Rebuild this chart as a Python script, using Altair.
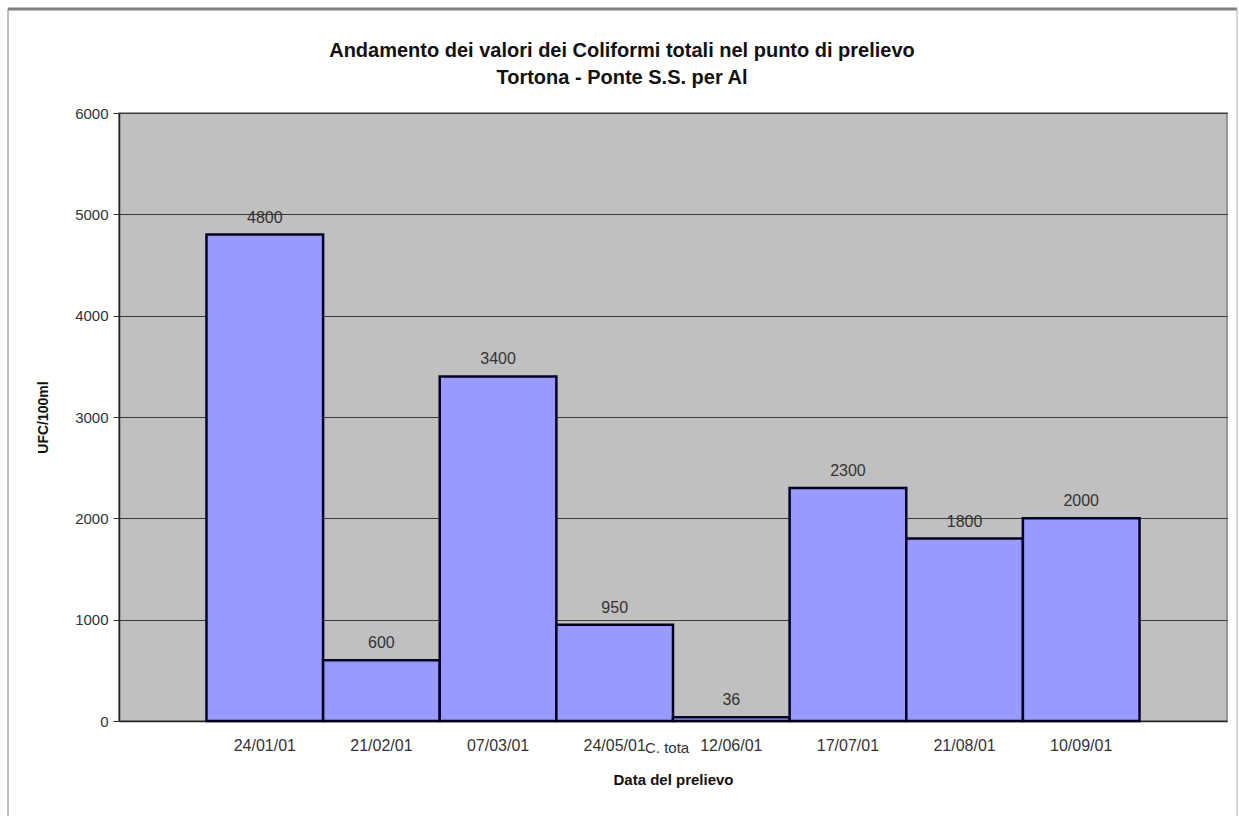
import altair as alt
import pandas as pd

dates = ["24/01/01", "21/02/01", "07/03/01", "24/05/01", "12/06/01", "17/07/01", "21/08/01", "10/09/01"]
values = [4800, 600, 3400, 950, 36, 2300, 1800, 2000]
title_lines = ["Andamento dei valori dei Coliformi totali nel punto di prelievo", "Tortona - Ponte S.S. per Al"]
y_title = "UFC/100ml"
x_title = "Data del prelievo"
legend_stub = "C. tota"

W, H = 1108, 608
FONT = "Liberation Sans"

df = pd.DataFrame({"date": dates, "value": values})

x = alt.X("date:N", sort=dates,
          scale=alt.Scale(paddingInner=0, paddingOuter=0.75),
          axis=alt.Axis(title=x_title, labelAngle=0, ticks=False, labelPadding=16,
                        labelFont=FONT, labelFontSize=16, labelColor="#333333",
                        titleFont=FONT, titleFontSize=15, titleFontWeight="bold",
                        titleColor="#111111", titlePadding=19,
                        domainColor="#222222", domainWidth=1.5))
y = alt.Y("value:Q", scale=alt.Scale(domain=[0, 6000], nice=False),
          axis=alt.Axis(title=y_title, values=[0, 1000, 2000, 3000, 4000, 5000, 6000],
                        format="d",
                        tickSize=6, tickColor="#333333", labelPadding=5,
                        labelFont=FONT, labelFontSize=15, labelColor="#333333",
                        titleFont=FONT, titleFontSize=14, titleFontWeight="bold",
                        titleColor="#111111", titlePadding=24,
                        grid=True, gridColor="#3a3a3a", gridWidth=1,
                        domainColor="#222222", domainWidth=1.5))

bars = alt.Chart(df).mark_bar(color="#9999FF", stroke="#000022", strokeWidth=2.5).encode(x=x, y=y)

labels = alt.Chart(df).mark_text(font=FONT, fontSize=16, color="#333333",
                                 baseline="alphabetic", dy=-12).encode(
    x=alt.X("date:N", sort=dates), y="value:Q", text="value:Q")

title1 = alt.Chart(pd.DataFrame({"t": [title_lines[0]]})).mark_text(
    font=FONT, fontSize=20, fontWeight="bold", color="#111111", baseline="middle").encode(
    text="t:N", x=alt.value(503), y=alt.value(-62))
title2 = alt.Chart(pd.DataFrame({"t": [title_lines[1]]})).mark_text(
    font=FONT, fontSize=20, fontWeight="bold", color="#111111", baseline="middle").encode(
    text="t:N", x=alt.value(503), y=alt.value(-35))

stub = alt.Chart(pd.DataFrame({"t": [legend_stub]})).mark_text(
    font=FONT, fontSize=15, color="#333333", align="left", baseline="alphabetic").encode(
    text="t:N", x=alt.value(526), y=alt.value(640))

frame_top = alt.Chart(pd.DataFrame({"a": [0]})).mark_rule(color="#808080", strokeWidth=3).encode(
    x=alt.value(-111), x2=alt.value(1118), y=alt.value(-104))
frame_left = alt.Chart(pd.DataFrame({"a": [0]})).mark_rule(color="#808080", strokeWidth=1).encode(
    x=alt.value(-111), y=alt.value(-104), y2=alt.value(703))
frame_right = alt.Chart(pd.DataFrame({"a": [0]})).mark_rule(color="#b0b0b0", strokeWidth=1).encode(
    x=alt.value(1118), y=alt.value(-104), y2=alt.value(703))

chart = alt.layer(bars, labels, title1, title2, stub, frame_top, frame_left, frame_right).properties(
    width=W, height=H,
    autosize="none",
    padding={"left": 119, "top": 113, "right": 12, "bottom": 95},
    background="white",
).configure_view(fill="#C0C0C0", stroke="#808080", strokeWidth=1.5)

chart.save("out.html", embed_options={"renderer": "svg", "actions": False})
